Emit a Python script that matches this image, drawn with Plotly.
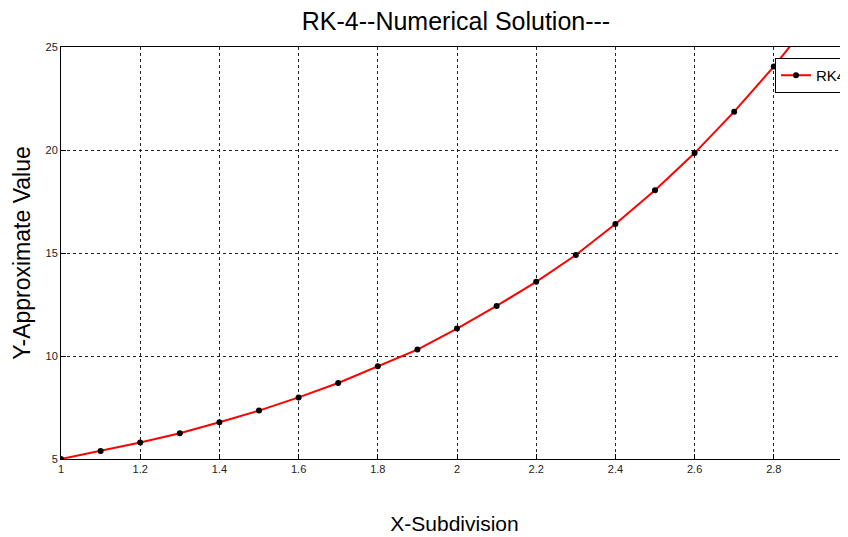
import plotly.graph_objects as go

x_vals = [1.0, 1.1, 1.2, 1.3, 1.4, 1.5, 1.6, 1.7, 1.8, 1.9, 2.0,
          2.1, 2.2, 2.3, 2.4, 2.5, 2.6, 2.7, 2.8, 2.9, 3.0]
y_vals = [5.00, 5.39, 5.80, 6.25, 6.78, 7.35, 7.99, 8.69, 9.50, 10.31, 11.33,
          12.43, 13.60, 14.90, 16.41, 18.05, 19.85, 21.86, 24.05, 26.45, 29.10]

x_ticks = [1, 1.2, 1.4, 1.6, 1.8, 2, 2.2, 2.4, 2.6, 2.8]
x_tick_labels = ["1", "1.2", "1.4", "1.6", "1.8", "2", "2.2", "2.4", "2.6", "2.8"]
y_ticks = [5, 10, 15, 20, 25]
y_tick_labels = ["5", "10", "15", "20", "25"]

FONT = "Liberation Sans, Arial, sans-serif"

W, H = 840, 529  # page adds an 8px body margin
L, T, B = 53, 39, 78

fig = go.Figure()
fig.add_trace(go.Scatter(
    x=x_vals, y=y_vals, mode="lines+markers", name="RK4",
    line=dict(color="#ff0000", width=2),
    marker=dict(color="black", size=6),
))

plot_w = W - L
plot_h = H - T - B

fig.update_layout(
    width=W, height=H,
    margin=dict(l=L, r=0, t=T, b=B, autoexpand=False),
    paper_bgcolor="white", plot_bgcolor="white",
    font=dict(family=FONT, color="black"),
    title=dict(text="RK-4--Numerical Solution---", x=448 / W, xanchor="center",
               y=1 - 13 / H, yanchor="middle", yref="container",
               font=dict(size=25, family=FONT, color="black")),
    showlegend=True,
    legend=dict(x=(775 - 8 - L) / plot_w, xanchor="left",
                y=(plot_h - (58 - 8 - T)) / plot_h, yanchor="top",
                bgcolor="white", bordercolor="black", borderwidth=1,
                font=dict(size=15, family=FONT, color="black"),
                itemwidth=30, tracegroupgap=0),
)

fig.update_xaxes(
    range=[1, 1 + 787 / 396], tickvals=x_ticks, ticktext=x_tick_labels,
    showline=True, linecolor="black", linewidth=1, mirror=True,
    ticks="inside", ticklen=5, tickcolor="black",
    showgrid=True, gridcolor="#222222", griddash="3px,3px", gridwidth=1,
    zeroline=False,
    tickfont=dict(size=11, family=FONT, color="#222222"),
    title=dict(text="X-Subdivision", font=dict(size=21, family=FONT, color="black"),
               standoff=42),
)
fig.update_yaxes(
    range=[5, 25], tickvals=y_ticks, ticktext=y_tick_labels,
    showline=True, linecolor="black", linewidth=1, mirror=True,
    ticks="inside", ticklen=5, tickcolor="black",
    showgrid=True, gridcolor="#222222", griddash="3px,3px", gridwidth=1,
    zeroline=False,
    tickfont=dict(size=11, family=FONT, color="#222222"),
    title=dict(text="Y-Approximate Value", font=dict(size=23, family=FONT, color="black"),
               standoff=8),
)

fig.write_html("out.html")
